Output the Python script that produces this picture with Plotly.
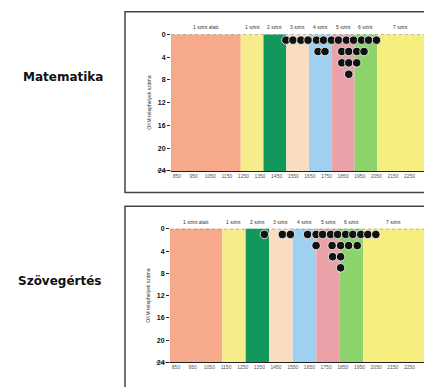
import plotly.graph_objects as go

W, H = 424, 387

# ---- data ----
x_tick_vals = [850, 950, 1050, 1150, 1250, 1350, 1450, 1550, 1650, 1750, 1850, 1950, 2050, 2150, 2250]
x_range = [814, 2337]
y_tick_vals = [0, 4, 8, 12, 16, 20, 24]

level_names = ["1 szint alatt", "1 szint", "2 szint", "3 szint", "4 szint", "5 szint", "6 szint", "7 szint"]
level_colors = ["#F7A98B", "#F6EC8C", "#12975C", "#FADDC0", "#9FD0F0", "#EAA1A8", "#8DD36C", "#F6EE7E"]

math_bounds = [1234, 1371, 1508, 1645, 1782, 1919, 2056]
read_bounds = [1127, 1268, 1409, 1550, 1691, 1832, 1973]

math_x = [1506, 1548, 1596, 1639, 1690, 1732, 1780, 1822, 1870, 1913, 1961, 2003, 2051,
          1699, 1741, 1842, 1884, 1932, 1976,
          1842, 1884, 1932,
          1884]
math_y = [1] * 13 + [3] * 6 + [5] * 3 + [7]

read_x = [1380, 1488, 1536, 1639, 1690, 1729, 1777, 1819, 1867, 1910, 1958, 2000, 2048,
          1690, 1786, 1837, 1885, 1937,
          1789, 1837,
          1837]
read_y = [1] * 13 + [3] * 5 + [5] * 2 + [7]

panels = [
    dict(label="Matematika", bounds=math_bounds, dx=math_x, dy=math_y,
         xd=[171 / W, 1.0], yd=[1 - 170 / H, 1 - 31 / H], lab=(63, 74),
         frame=(125, 8, 192)),
    dict(label="Szövegértés", bounds=read_bounds, dx=read_x, dy=read_y,
         xd=[170 / W, 1.0], yd=[1 - 365 / H, 1 - 229 / H], lab=(60, 282),
         frame=(125, 206, 400)),
]

fig = go.Figure()
shapes, annotations = [], []
font_family = "Liberation Sans, Arial, sans-serif"

for i, p in enumerate(panels):
    sfx = "" if i == 0 else str(i + 1)
    xa, ya = "x" + sfx, "y" + sfx
    edges = [x_range[0]] + p["bounds"] + [x_range[1]]
    for k in range(len(level_names)):
        shapes.append(dict(type="rect", xref=xa, yref=ya + " domain", x0=edges[k], x1=edges[k + 1],
                           y0=0, y1=1, fillcolor=level_colors[k], line=dict(width=0), layer="below"))
        annotations.append(dict(xref=xa, yref=ya + " domain", x=(edges[k] + edges[k + 1]) / 2, y=1,
                                xanchor="center", yanchor="bottom", yshift=2, text=level_names[k],
                                showarrow=False, font=dict(size=5, color="#333", family=font_family)))
    # dotted line at top (y=0)
    shapes.append(dict(type="line", xref=xa + " domain", yref=ya, x0=0, x1=1, y0=0, y1=0,
                       line=dict(color="#777", width=1, dash="dot"), layer="below"))
    # extension of base line to the left
    shapes.append(dict(type="line", xref="paper", yref=ya, x0=p["xd"][0] - 14 / W, x1=p["xd"][0],
                       y0=24, y1=24, line=dict(color="#222", width=1)))
    # frame
    fx, fy0, fy1 = p["frame"]
    shapes.append(dict(type="rect", xref="paper", yref="paper", x0=fx / W, x1=1.02,
                       y0=1 - fy1 / H, y1=1 - fy0 / H, line=dict(color="#444", width=1.5),
                       fillcolor="rgba(0,0,0,0)"))
    fig.add_trace(go.Scatter(x=p["dx"], y=p["dy"], mode="markers", xaxis=xa, yaxis=ya,
                             marker=dict(size=8.5, color="#111", line=dict(color="white", width=0.8)),
                             showlegend=False, hoverinfo="skip"))
    lx, ly = p["lab"]
    annotations.append(dict(xref="paper", yref="paper", x=lx / W, y=1 - ly / H,
                            xanchor="center", yanchor="middle", text="<b>" + p["label"] + "</b>",
                            showarrow=False, font=dict(size=12, color="#111", family="DejaVu Sans, sans-serif")))
    annotations.append(dict(xref="paper", yref="paper", x=(p["xd"][0] * W - 22) / W,
                            y=(p["yd"][0] + p["yd"][1]) / 2, xanchor="center", yanchor="middle",
                            text="OKM telephelyek száma", textangle=-90, showarrow=False,
                            font=dict(size=5, color="#333", family=font_family)))
    axis_x = dict(domain=p["xd"], range=x_range, tickvals=x_tick_vals,
                  ticktext=[str(v) for v in x_tick_vals], showgrid=False, zeroline=False,
                  showline=True, linecolor="#222", linewidth=1, ticks="", ticklen=2,
                  tickfont=dict(size=5, color="#555", family=font_family), anchor=ya)
    axis_y = dict(domain=p["yd"], range=[24, 0], tickvals=y_tick_vals, showgrid=False,
                  zeroline=False, showline=False, ticks="outside", ticklen=3, tickcolor="#222",
                  tickfont=dict(size=7, color="#111", family=font_family, weight="bold"), anchor=xa)
    fig.layout["xaxis" + sfx] = axis_x
    fig.layout["yaxis" + sfx] = axis_y

fig.update_layout(width=W, height=H, margin=dict(l=0, r=0, t=0, b=0),
                  paper_bgcolor="white", plot_bgcolor="white",
                  shapes=shapes, annotations=annotations, showlegend=False)

fig.write_html("out.html", config={"displayModeBar": False},
               post_script="document.body.style.margin='0';document.body.style.overflow='hidden';")
